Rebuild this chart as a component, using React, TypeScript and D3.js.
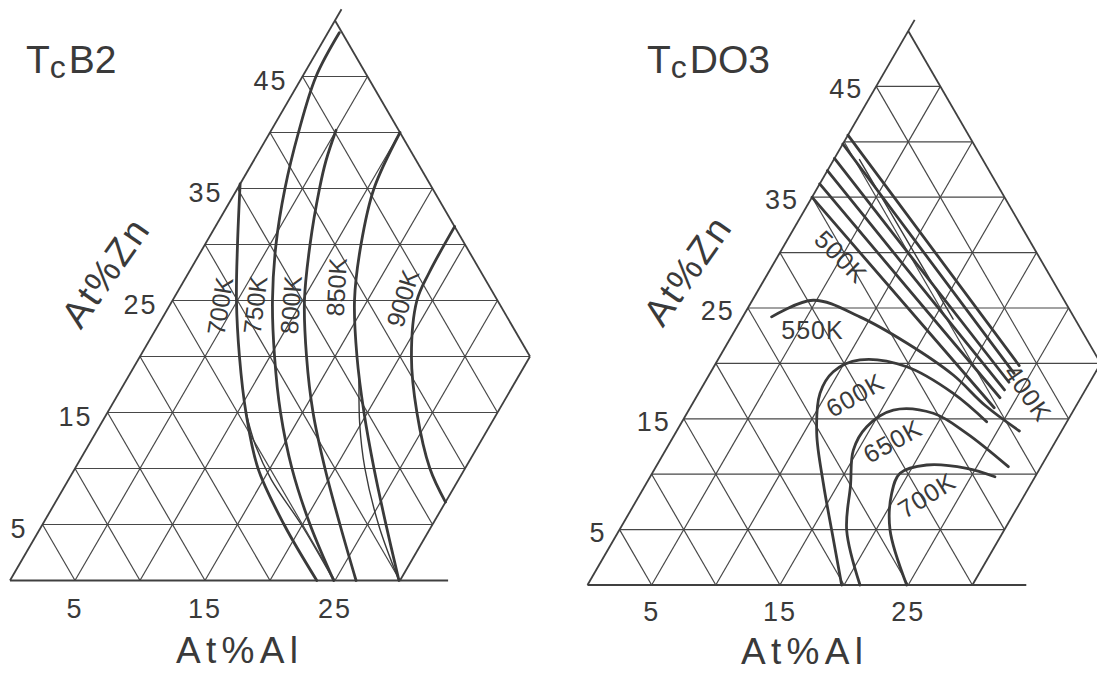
import React from "react";
import * as d3 from "d3";

type P = [number, number]; // [at% Al, at% Zn]

const W = 1097;
const H = 673;

const GRID_STEPS = [5, 10, 15, 20, 25, 30, 35, 40, 45];
const AL_LINES = [5, 10, 15, 20, 25];
const ZN_TICKS = [5, 15, 25, 35, 45];
const AL_TICKS = [5, 15, 25];

// ---- TcB2 transition-temperature contours ----
const b2K700: P[] = [[0, 35.4], [2.5, 30], [4.92, 25], [7.65, 20], [10.65, 15], [14.08, 10], [18.58, 5], [23.6, 0]];
const b2K750: P[] = [[0.88, 48.9], [1.04, 45], [2.19, 40], [3.65, 35], [5.46, 30], [7.69, 25], [10.35, 20], [13.31, 15], [16.69, 10], [20.58, 5], [24.9, 0]];
const b2K800: P[] = [[4.98, 40.2], [5.56, 37.5], [6.31, 35], [8.08, 30], [10.15, 25], [12.81, 20], [15.81, 15], [19.23, 10], [22.88, 5], [26.62, 0]];
const b2K850: P[] = [[10, 40], [10.5, 35], [12.0, 30], [14.0, 25], [16.69, 20], [19.73, 15], [23.0, 10], [26.42, 5], [29.92, 0]];
const b2K900: P[] = [[18.4, 31.6], [18.5, 27.5], [18.8, 25], [20.88, 20], [23.8, 15], [27.3, 10], [30, 7]];
const b2ThinA: P[] = [[10.65, 15], [12.9, 12], [15.6, 9], [19.9, 5], [24.9, 0]];
const b2ThinB: P[] = [[17.6, 18.5], [19.9, 14], [22.3, 10], [26.0, 4.8], [29.92, 0]];

const b2LabelText = ["700K", "750K", "800K", "850K", "900K"];
const b2LabelAt: P[] = [[3.9, 24.5], [6.55, 24.6], [9.3, 24.6], [12.0, 26.2], [17.6, 25.2]];
const b2LabelRot = [-81, -83, -86, -87, -73];

// ---- TcDO3 transition-temperature contours ----
const d03K400a: P[] = [[0, 40.6], [23.75, 19.8]];
const d03K400b: P[] = [[0, 39.8], [23.7, 19.1]];
const d03K400c: P[] = [[0, 38.5], [23.7, 18.3]];
const d03K400d: P[] = [[0, 37.4], [23.7, 17.6]];
const d03K400e: P[] = [[0, 36.2], [23.7, 16.9]];
const d03K500: P[] = [[0, 35.0], [23.7, 16.0]];
const d03K550: P[] = [[2.25, 24.2], [4.74, 25.7], [9.13, 24.2], [13.96, 21.84], [19.03, 18.95], [22.9, 16.2], [26.71, 13.9]];
const d03K600: P[] = [[19.81, 0], [16.55, 4.96], [13.79, 9.18], [11.02, 13.69], [9.47, 17.3], [9.53, 19.25], [11.08, 20.31], [15.03, 19.7], [19.86, 17.3], [23.74, 14.74]];
const d03K650: P[] = [[21.24, 0], [17.72, 4.96], [16.0, 9.0], [14.63, 12.18], [14.62, 14.29], [15.94, 15.79], [19.2, 15.5], [22.71, 13.69], [27.46, 10.68]];
const d03K700: P[] = [[24.88, 0], [21.1, 4.96], [19.57, 8.28], [19.32, 10.08], [21.02, 10.83], [24.29, 10.53], [26.87, 9.77]];
const d03Thin: P[] = [[2.0, 38.4], [16.5, 24.0]];

const d03LabelText = ["400K", "500K", "550K", "600K", "650K", "700K"];
const d03LabelAt: P[] = [[25.67, 17.33], [4.95, 29.63], [6.03, 23.01], [12.28, 17.15], [17.27, 13.0], [22.38, 8.12]];
const d03LabelRot = [55, 45, 0, -30, -29, -32];

const FONT = "'Liberation Sans', Arial, Helvetica, sans-serif";
const INK = "#3a3a3a";

interface PanelCfg {
  title: string;
  titleTail: string;
  titleX: number;
  titleY: number;
  x0: number;
  y0: number;
  s: number;
  h: number;
  bottomEnd: number;
  zGap: number;
  zDy: number;
  aDy: number;
  alTitle: [number, number];
  znTitle: [number, number];
  curves: P[][];
  thin: P[][];
  labelText: string[];
  labelAt: P[];
  labelRot: number[];
  labelSpacing: number;
}

const panels: PanelCfg[] = [
  {
    title: "T",
    titleTail: "B2",
    titleX: 26,
    titleY: 73,
    x0: 10,
    y0: 580.5,
    s: 13.0,
    h: 11.2,
    bottomEnd: 33.7,
    zGap: 15,
    zDy: 13,
    aDy: 37,
    alTitle: [237, 663],
    znTitle: [105, 273],
    curves: [b2K700, b2K750, b2K800, b2K850, b2K900],
    thin: [b2ThinA, b2ThinB],
    labelText: b2LabelText,
    labelAt: b2LabelAt,
    labelRot: b2LabelRot,
    labelSpacing: 0,
  },
  {
    title: "T",
    titleTail: "DO3",
    titleX: 647,
    titleY: 73,
    x0: 587.5,
    y0: 585,
    s: 12.83,
    h: 11.08,
    bottomEnd: 34.2,
    zGap: 13,
    zDy: 12,
    aDy: 35.5,
    alTitle: [802, 664],
    znTitle: [687, 271],
    curves: [d03K400a, d03K400b, d03K400c, d03K400d, d03K400e, d03K500, d03K550, d03K600, d03K650, d03K700],
    thin: [d03Thin],
    labelText: d03LabelText,
    labelAt: d03LabelAt,
    labelRot: d03LabelRot,
    labelSpacing: 1,
  },
];

function Panel({ cfg }: { cfg: PanelCfg }) {
  const xs = d3.scaleLinear().domain([0, 50]).range([cfg.x0, cfg.x0 + 50 * cfg.s]);
  const ys = d3.scaleLinear().domain([0, 50]).range([cfg.y0, cfg.y0 - 50 * cfg.h]);
  const px = (p: P): [number, number] => [xs(p[0] + p[1] / 2), ys(p[1])];

  const smooth = d3
    .line<P>()
    .x((d) => px(d)[0])
    .y((d) => px(d)[1])
    .curve(d3.curveCatmullRom.alpha(0.5));
  const straight = d3
    .line<P>()
    .x((d) => px(d)[0])
    .y((d) => px(d)[1]);

  // Triangular grid: constant Zn, constant Al and constant Al+Zn lines
  const grid: P[][] = [];
  GRID_STEPS.forEach((k) => grid.push([[0, k], [Math.min(30, 50 - k), k]]));
  AL_LINES.forEach((a) => grid.push([[a, 0], [a, 50 - a]]));
  GRID_STEPS.forEach((c) => {
    const a = Math.min(c, 30);
    grid.push([[0, c], [a, c - a]]);
  });
  const frame: P[][] = [
    [[0, 0], [0, 51]],
    [[0, 0], [cfg.bottomEnd, 0]],
    [[0, 50], [30, 20]],
    [[30, 20], [30, 0]],
  ];

  return (
    <g>
      {grid.map((g, i) => (
        <path key={"g" + i} d={straight(g) || ""} stroke="#474747" strokeWidth={1.2} fill="none" />
      ))}
      {frame.map((g, i) => (
        <path key={"f" + i} d={straight(g) || ""} stroke="#404040" strokeWidth={1.8} fill="none" />
      ))}
      {cfg.thin.map((c, i) => (
        <path key={"t" + i} d={smooth(c) || ""} stroke={INK} strokeWidth={1.4} fill="none" strokeLinecap="round" />
      ))}
      {cfg.curves.map((c, i) => (
        <path
          key={"c" + i}
          d={(c.length > 2 ? smooth(c) : straight(c)) || ""}
          stroke={INK}
          strokeWidth={2.8}
          fill="none"
          strokeLinecap="round"
          strokeLinejoin="round"
        />
      ))}
      {cfg.labelText.map((t, i) => {
        const [x, y] = px(cfg.labelAt[i]);
        return (
          <text
            key={"l" + i}
            transform={`translate(${x},${y}) rotate(${cfg.labelRot[i]})`}
            textAnchor="middle"
            dy="0.36em"
            fontSize={25}
            letterSpacing={cfg.labelSpacing}
            fontFamily={FONT}
            fill={INK}
          >
            {t}
          </text>
        );
      })}
      {ZN_TICKS.map((z) => {
        const [x, y] = px([0, z]);
        return (
          <text
            key={"z" + z}
            x={x - cfg.zGap}
            y={y + cfg.zDy}
            textAnchor="end"
            fontSize={27}
            letterSpacing={2}
            fontFamily={FONT}
            fill={INK}
          >
            {z}
          </text>
        );
      })}
      {AL_TICKS.map((a) => {
        const [x] = px([a, 0]);
        return (
          <text
            key={"a" + a}
            x={x}
            y={cfg.y0 + cfg.aDy}
            textAnchor="middle"
            fontSize={27}
            letterSpacing={2}
            fontFamily={FONT}
            fill={INK}
          >
            {a}
          </text>
        );
      })}
      <text
        x={cfg.alTitle[0]}
        y={cfg.alTitle[1]}
        textAnchor="middle"
        fontSize={37}
        textLength={122}
        lengthAdjust="spacing"
        fontFamily={FONT}
        fill={INK}
      >
        At%Al
      </text>
      <text
        transform={`translate(${cfg.znTitle[0]},${cfg.znTitle[1]}) rotate(-55)`}
        textAnchor="middle"
        dy={13}
        fontSize={38}
        textLength={122}
        lengthAdjust="spacing"
        fontFamily={FONT}
        fill={INK}
      >
        At%Zn
      </text>
      <text x={cfg.titleX} y={cfg.titleY} fontSize={39} fontFamily={FONT} fill={INK}>
        <tspan>{cfg.title}</tspan>
        <tspan dy={5} fontSize={32}>
          c
        </tspan>
        <tspan dy={-5} dx={3}>
          {cfg.titleTail}
        </tspan>
      </text>
    </g>
  );
}

export default function App() {
  return (
    <svg
      width={W}
      height={H}
      viewBox={`0 0 ${W} ${H}`}
      style={{ position: "absolute", left: 0, top: 0, display: "block", background: "#ffffff" }}
    >
      <rect x={0} y={0} width={W} height={H} fill="#ffffff" />
      {panels.map((p, i) => (
        <Panel key={i} cfg={p} />
      ))}
    </svg>
  );
}
